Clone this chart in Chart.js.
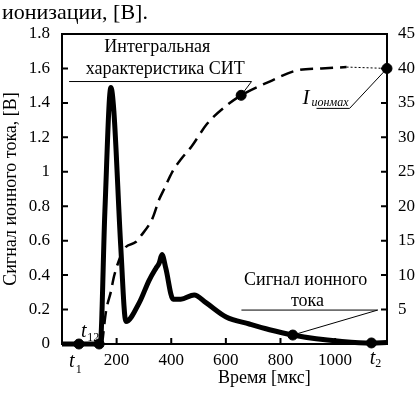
<!DOCTYPE html>
<html>
<head>
<meta charset="utf-8">
<script src="https://cdn.jsdelivr.net/npm/chart.js@4.4.1/dist/chart.umd.min.js"></script>
<style>
  body { margin: 0; background: #fff; }
  #wrap { position: relative; width: 419px; height: 399px; }
  #caption { position: absolute; left: 2px; top: 1px; font: 22px "Liberation Serif", "Times New Roman", serif; line-height: 1; color: #000; }
</style>
</head>
<body>
<div id="wrap">
  <canvas id="chart" width="419" height="399"></canvas>
  <div id="caption">ионизации, [В].</div>
</div>
<script>
// ion current signal, left axis [V]
const ionTime = [0, 140, 157, 179, 190, 215, 234, 283, 319, 344, 356, 366, 380, 407, 435, 484, 527, 601, 686, 760, 845, 931, 1017, 1133, 1190];
const ionSignal = [0, 0, 0.77, 1.49, 1.35, 0.57, 0.13, 0.24, 0.37, 0.44, 0.47, 0.52, 0.44, 0.26, 0.26, 0.285, 0.24, 0.157, 0.116, 0.083, 0.052, 0.03, 0.016, 0.006, 0.008];

// integral characteristic, right axis
const integralTime = [147, 161, 179, 191, 228, 270, 289, 331, 356, 374, 404, 437, 473, 532, 602, 656, 760, 859, 950, 1042];
const integralValue = [0, 4.7, 7.6, 9.9, 13.8, 14.8, 15.7, 18.2, 21, 22.5, 25, 26.9, 28.6, 32, 34.6, 36.1, 38.1, 39.7, 40, 40.2];
const integralTailTime = [1042, 1190];
const integralTailValue = [40.2, 40];

// marked points
const ionMarkTime = [62, 136, 845, 1133];
const ionMarkValue = [0, 0, 0.052, 0.006];
const integralMarkTime = [656, 1190];
const integralMarkValue = [36.1, 40];

// tick labels
const xTicks = [200, 400, 600, 800, 1000];
const leftTicks = [0, 0.2, 0.4, 0.6, 0.8, 1, 1.2, 1.4, 1.6, 1.8];
const rightTicks = [5, 10, 15, 20, 25, 30, 35, 40, 45];

const serif = "'Liberation Serif', 'Times New Roman', serif";

function pts(xs, ys) {
    return xs.map((v, i) => ({x: v, y: ys[i]}));
}

const frameAndTicks = {
    id: "frameAndTicks",
    afterDatasetsDraw(chart) {
        const {ctx, chartArea: a, scales} = chart;
        ctx.save();
        ctx.strokeStyle = "#000";
        ctx.lineWidth = 2;
        ctx.strokeRect(a.left, a.top, a.right - a.left, a.bottom - a.top);
        ctx.beginPath();
        leftTicks.forEach(v => {
            const py = scales.y.getPixelForValue(v);
            ctx.moveTo(a.left, py);
            ctx.lineTo(a.left + 6, py);
        });
        rightTicks.forEach(v => {
            const py = scales.y2.getPixelForValue(v);
            ctx.moveTo(a.right, py);
            ctx.lineTo(a.right - 6, py);
        });
        xTicks.forEach(v => {
            const px = scales.x.getPixelForValue(v);
            ctx.moveTo(px, a.bottom);
            ctx.lineTo(px, a.bottom - 6);
        });
        ctx.stroke();
        ctx.restore();
    }
};

const notes = {
    id: "notes",
    afterDraw(chart) {
        const {ctx, scales: {x, y, y2}} = chart;
        ctx.save();
        ctx.fillStyle = "#000";
        ctx.strokeStyle = "#000";
        ctx.lineWidth = 1;
        ctx.textBaseline = "alphabetic";

        function text(str, px, py, size, align, italic) {
            ctx.font = (italic ? "italic " : "") + size + "px " + serif;
            ctx.textAlign = align;
            ctx.fillText(str, px, py);
        }
        function line(points) {
            ctx.beginPath();
            points.forEach((p, i) => i ? ctx.lineTo(p[0], p[1]) : ctx.moveTo(p[0], p[1]));
            ctx.stroke();
        }

        // integral characteristic label
        text("Интегральная", x.getPixelForValue(349), y.getPixelForValue(1.696), 18, "center");
        text("характеристика СИТ", x.getPixelForValue(378), y.getPixelForValue(1.568), 18, "center");
        line([[x.getPixelForValue(26), y.getPixelForValue(1.524)],
              [x.getPixelForValue(694), y.getPixelForValue(1.524)],
              [x.getPixelForValue(656), y2.getPixelForValue(36.1)]]);

        // I ion max
        text("I", x.getPixelForValue(881), y2.getPixelForValue(34.9), 21, "left", true);
        text("ионмах", x.getPixelForValue(914), y2.getPixelForValue(34.6), 12, "left", true);
        line([[x.getPixelForValue(932), y2.getPixelForValue(34.2)],
              [x.getPixelForValue(1053), y2.getPixelForValue(34.2)],
              [x.getPixelForValue(1190), y2.getPixelForValue(40)]]);

        // ion signal label
        text("Сигнал ионного", x.getPixelForValue(892), y.getPixelForValue(0.343), 18, "center");
        text("тока", x.getPixelForValue(899), y.getPixelForValue(0.221), 18, "center");
        line([[x.getPixelForValue(657), y.getPixelForValue(0.197)],
              [x.getPixelForValue(1156), y.getPixelForValue(0.197)],
              [x.getPixelForValue(845), y.getPixelForValue(0.052)]]);

        // time marks
        text("t", x.getPixelForValue(26), y.getPixelForValue(-0.134), 20, "left", true);
        text("1", x.getPixelForValue(50), y.getPixelForValue(-0.17), 12, "left");
        text("t", x.getPixelForValue(70), y.getPixelForValue(0.04), 20, "left", true);
        text("12", x.getPixelForValue(92), y.getPixelForValue(0.017), 12, "left");
        text("t", x.getPixelForValue(1127), y.getPixelForValue(-0.116), 20, "left", true);
        text("2", x.getPixelForValue(1147), y.getPixelForValue(-0.135), 12, "left");

        // x axis title
        text("Время [мкс]", x.getPixelForValue(741), y.getPixelForValue(-0.225), 18, "center");
        ctx.restore();
    }
};

document.addEventListener("DOMContentLoaded", () => {
    const canvas = document.getElementById("chart");
    new Chart(canvas, {
        type: "line",
        data: {
            datasets: [{
                data: pts(ionMarkTime, ionMarkValue),
                yAxisID: "y",
                showLine: false,
                pointRadius: 5,
                pointBackgroundColor: "#000",
                pointBorderColor: "#000",
                clip: false
            }, {
                data: pts(integralMarkTime, integralMarkValue),
                yAxisID: "y2",
                showLine: false,
                pointRadius: 5,
                pointBackgroundColor: "#000",
                pointBorderColor: "#000",
                clip: false
            }, {
                data: pts(ionTime, ionSignal),
                yAxisID: "y",
                borderColor: "#000",
                borderWidth: 5,
                pointRadius: 0,
                cubicInterpolationMode: "monotone",
                borderJoinStyle: "round",
                clip: false
            }, {
                data: pts(integralTime, integralValue),
                yAxisID: "y2",
                borderColor: "#000",
                borderWidth: 2.5,
                borderDash: [13, 7],
                pointRadius: 0,
                cubicInterpolationMode: "monotone",
                clip: false
            }, {
                data: pts(integralTailTime, integralTailValue),
                yAxisID: "y2",
                borderColor: "#000",
                borderWidth: 1,
                borderDash: [2, 2],
                pointRadius: 0,
                clip: false
            }]
        },
        options: {
            responsive: false,
            animation: false,
            events: [],
            layout: {padding: {left: 0, right: 0, top: 34, bottom: 0}},
            plugins: {legend: {display: false}, tooltip: {enabled: false}},
            scales: {
                x: {
                    type: "linear",
                    min: 0,
                    max: 1190,
                    grid: {display: false, drawTicks: false},
                    border: {display: false},
                    ticks: {padding: 6, color: "#000", font: {family: serif, size: 17}, maxRotation: 0, autoSkip: false, callback: v => String(v)},
                    afterBuildTicks: s => { s.ticks = xTicks.map(v => ({value: v})); },
                    afterFit: s => { s.height = 55; }
                },
                y: {
                    position: "left",
                    min: 0,
                    max: 1.8,
                    grid: {display: false, drawTicks: false},
                    border: {display: false},
                    ticks: {padding: 12, color: "#000", font: {family: serif, size: 17}, callback: v => String(v)},
                    afterBuildTicks: s => { s.ticks = leftTicks.map(v => ({value: v})); },
                    afterFit: s => { s.width = 62; },
                    title: {display: true, text: "Сигнал ионного тока, [В]", color: "#000", font: {family: serif, size: 18}, padding: 0}
                },
                y2: {
                    position: "right",
                    min: 0,
                    max: 45,
                    grid: {display: false, drawTicks: false},
                    border: {display: false},
                    ticks: {padding: 11, color: "#000", font: {family: serif, size: 17}, callback: v => String(v)},
                    afterBuildTicks: s => { s.ticks = rightTicks.map(v => ({value: v})); },
                    afterFit: s => { s.width = 32; }
                }
            }
        },
        plugins: [frameAndTicks, notes]
    });
});
</script>
</body>
</html>
